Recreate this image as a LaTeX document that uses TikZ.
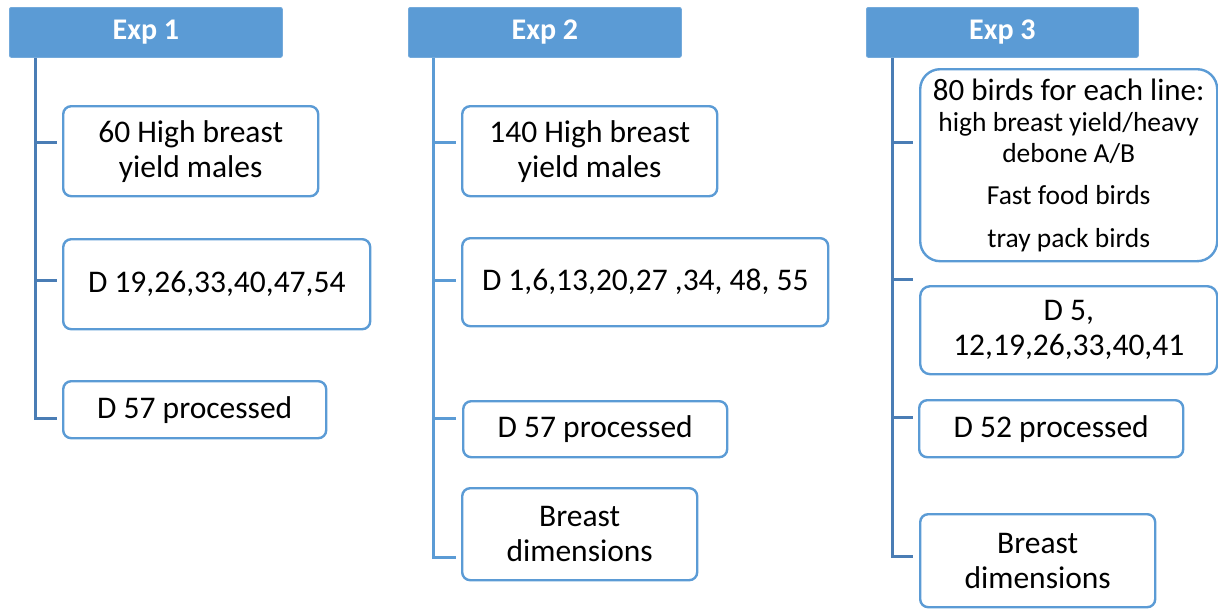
\documentclass[tikz,border=0pt]{standalone}
\usepackage{fontspec}
\setmainfont{Carlito}
\definecolor{hblue}{HTML}{5B9BD5}
\definecolor{bblue}{HTML}{5B9BD5}
\definecolor{dblue}{HTML}{4A7DB5}
\tikzset{
  head/.style={fill=hblue, draw=hblue!85!white, line width=0.8pt, rounded corners=2pt, text=white,
    font=\bfseries\fontsize{30}{32}\selectfont, anchor=north west, inner sep=0pt,
    minimum width=273pt, minimum height=50pt},
  box/.style={draw=bblue, line width=2.4pt, rounded corners=8pt, fill=white, align=center,
    anchor=north west, inner sep=0pt, font=\fontsize{31.5}{35}\selectfont},
  trunk/.style={line width=3pt},
}
\begin{document}
\begin{tikzpicture}[x=1pt,y=-1pt]
\useasboundingbox (0,0) rectangle (1218,608);

% ---------- Exp 1
\node[head] (h1) at (9,7) {Exp 1};
\node[box, minimum width=255pt, minimum height=90pt] (b11) at (62,105) {60 High breast\\yield males};
\node[box, minimum width=307pt, minimum height=90pt] (b12) at (62,238) {D 19,26,33,40,47,54};
\node[box, minimum width=263pt, minimum height=57pt] (b13) at (62,380) {D 57 processed};
\coordinate (t11) at (57,142);
\coordinate (t12) at (57,280);
\coordinate (t13) at (57,418);
\draw[trunk, dblue] (h1.south west -| 35,0) |- (t13);
\draw[trunk, dblue] (t11 -| 35,0) -- (t11);
\draw[trunk, dblue] (t12 -| 35,0) -- (t12);

% ---------- Exp 2
\node[head] (h2) at (408,7) {Exp 2};
\node[box, minimum width=255pt, minimum height=90pt] (b21) at (461,105) {140 High breast\\yield males};
\node[box, minimum width=366pt, minimum height=88pt] (b22) at (461,237) {D 1,6,13,20,27 ,34, 48, 55};
\node[box, minimum width=264pt, minimum height=56pt] (b23) at (462,400) {D 57 processed};
\node[box, minimum width=235pt, minimum height=92pt] (b24) at (461,487) {Breast\\dimensions};
\coordinate (t21) at (456,142);
\coordinate (t22) at (456,280);
\coordinate (t23) at (456,418);
\coordinate (t24) at (456,557);
\draw[trunk, bblue] (h2.south west -| 433,0) |- (t24);
\draw[trunk, bblue] (t21 -| 433,0) -- (t21);
\draw[trunk, bblue] (t22 -| 433,0) -- (t22);
\draw[trunk, bblue] (t23 -| 433,0) -- (t23);

% ---------- Exp 3
\node[head, minimum width=272pt] (h3) at (866,7) {Exp 3};
\node[box, rounded corners=20pt, minimum width=297pt, minimum height=192pt, font=\fontsize{27.5}{31}\selectfont] (b31) at (919,68)
  {{\fontsize{31}{33}\selectfont 80 birds for each line:}\\high breast yield/heavy\\debone A/B\\[11pt]Fast food birds\\[12pt]tray pack birds};
\node[box, rounded corners=10pt, minimum width=297pt, minimum height=88pt] (b32) at (919,285) {D 5,\\12,19,26,33,40,41};
\node[box, minimum width=264pt, minimum height=57pt] (b33) at (918,399) {D 52 processed};
\node[box, minimum width=235pt, minimum height=93pt] (b34) at (919,513) {Breast\\dimensions};
\coordinate (t31) at (913,142);
\coordinate (t32) at (913,279);
\coordinate (t33) at (913,417);
\coordinate (t34) at (913,556);
\draw[trunk, dblue] (h3.south west -| 892,0) |- (t34);
\draw[trunk, dblue] (t31 -| 892,0) -- (t31);
\draw[trunk, dblue] (t32 -| 892,0) -- (t32);
\draw[trunk, dblue] (t33 -| 892,0) -- (t33);
\end{tikzpicture}
\end{document}
